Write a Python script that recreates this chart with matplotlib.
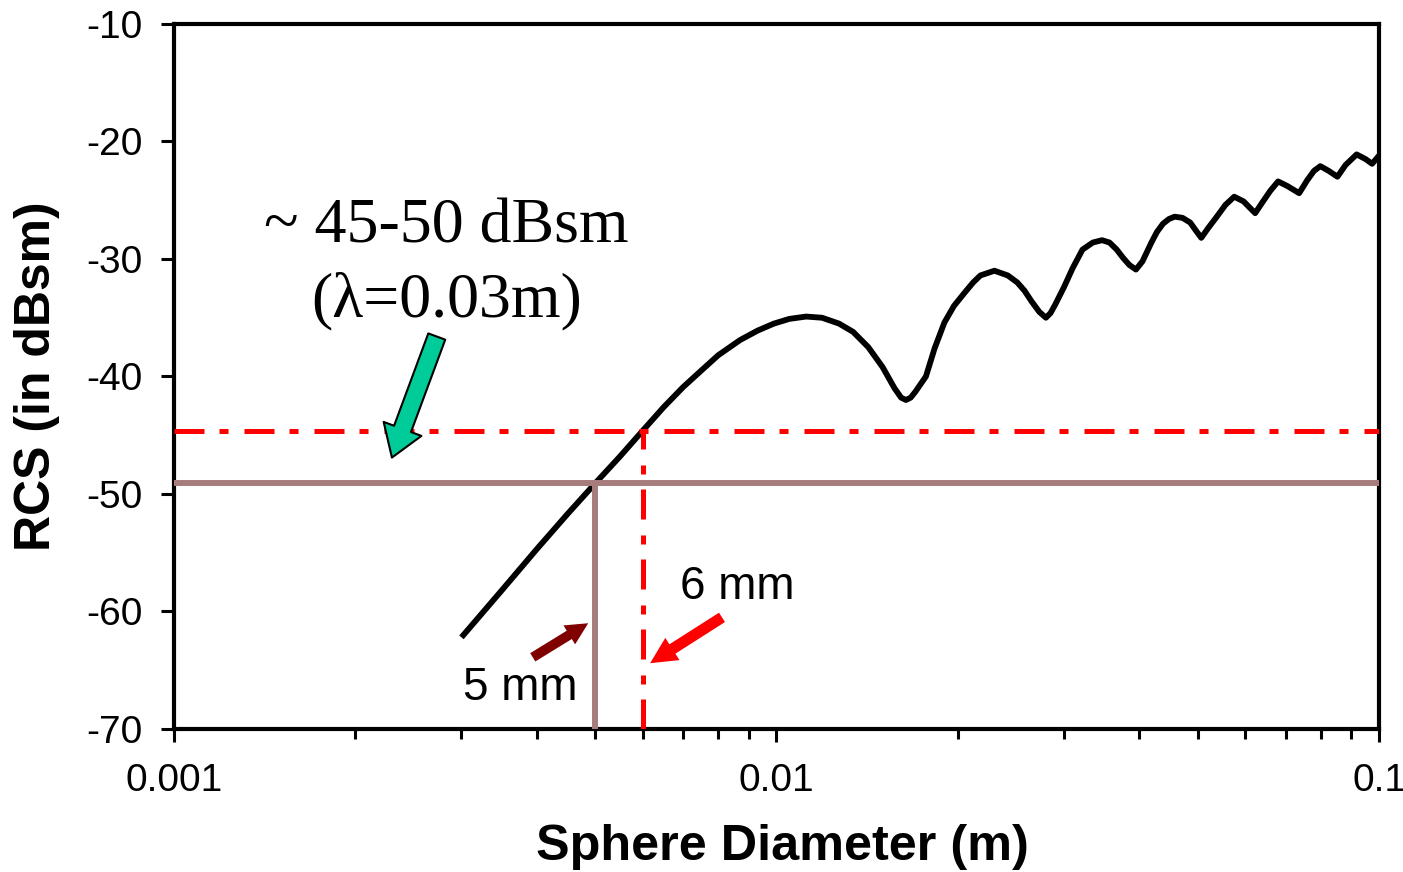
import matplotlib
matplotlib.use("Agg")
import matplotlib.pyplot as plt
from matplotlib.ticker import LogLocator, NullFormatter

plt.rcParams['font.family'] = ['Liberation Sans', 'DejaVu Sans']
plt.rcParams['lines.scale_dashes'] = False
plt.rcParams['axes.unicode_minus'] = False

# ---- data ----
diameter_m = [0.0030, 0.0035, 0.0040, 0.0045, 0.0050, 0.0055, 0.0060, 0.0065,
              0.0070, 0.0075, 0.0080, 0.0087, 0.0093, 0.0099, 0.0105, 0.0112,
              0.0119, 0.0127, 0.0134, 0.0142, 0.0150, 0.0157, 0.0161, 0.0164,
              0.0167, 0.0170, 0.0177, 0.0183, 0.0190, 0.0197, 0.0205, 0.0212,
              0.0218, 0.0230, 0.0242, 0.0251, 0.0258, 0.0265, 0.0273, 0.0280,
              0.0285, 0.0290, 0.0300, 0.0310, 0.0322, 0.0335, 0.0347, 0.0357,
              0.0367, 0.0376, 0.0385, 0.0395, 0.0405, 0.0419, 0.0428, 0.0438,
              0.0448, 0.0458, 0.0472, 0.0486, 0.0497, 0.0507, 0.0520, 0.0538,
              0.0556, 0.0575, 0.0596, 0.0612, 0.0623, 0.0640, 0.0660, 0.0680,
              0.0705, 0.0737, 0.0760, 0.0780, 0.0799, 0.0825, 0.0853, 0.0880,
              0.0918, 0.0950, 0.0974, 0.1000]
rcs_dbsm = [-62.2, -58.2, -54.7, -51.7, -49.1, -46.8, -44.6, -42.6,
            -40.9, -39.5, -38.2, -36.9, -36.1, -35.5, -35.1, -34.9,
            -35.0, -35.5, -36.2, -37.5, -39.2, -41.0, -41.8, -42.0,
            -41.8, -41.3, -40.0, -37.6, -35.4, -34.0, -32.9, -32.0,
            -31.4, -31.0, -31.4, -32.0, -32.7, -33.6, -34.5, -35.0,
            -34.6, -33.9, -32.4, -30.8, -29.2, -28.6, -28.4, -28.6,
            -29.2, -29.9, -30.5, -30.9, -30.2, -28.6, -27.7, -27.0,
            -26.6, -26.4, -26.5, -26.9, -27.6, -28.2, -27.4, -26.4,
            -25.4, -24.7, -25.1, -25.7, -26.1, -25.2, -24.2, -23.4,
            -23.8, -24.4, -23.3, -22.5, -22.1, -22.5, -23.0, -22.0,
            -21.1, -21.5, -21.9, -21.2]

level_high = -44.6      # red dash-dot level
level_low = -49.1       # brown level
d_6mm = 0.006
d_5mm = 0.005

xticks = [0.001, 0.01, 0.1]
xtick_labels = ['0.001', '0.01', '0.1']
yticks = [-70, -60, -50, -40, -30, -20, -10]

# ---- figure ----
fig = plt.figure(figsize=(14.03, 8.72), dpi=100)
ax = fig.add_axes([0.1240, 0.1640, 0.8589, 0.8085])

ax.set_xscale('log')
ax.set_xlim(0.001, 0.1)
ax.set_ylim(-70, -10)

ax.plot(diameter_m, rcs_dbsm, color='black', lw=4.2, solid_joinstyle='round',
        solid_capstyle='butt', zorder=3)

brown = '#a87c7c'
red = '#ff0000'
dash = (0, (21.6, 10.8, 6.5, 11.5))

ax.axhline(level_low, color=brown, lw=4.3, zorder=4)
ax.plot([d_5mm, d_5mm], [-70, level_low], color=brown, lw=4.3, zorder=4,
        solid_capstyle='butt')
ax.axhline(level_high, color=red, lw=3.6, linestyle=dash, zorder=5,
           dash_capstyle='butt')
ax.plot([d_6mm, d_6mm], [-70, level_high], color=red, lw=3.6, linestyle=dash,
        zorder=5, dash_capstyle='butt')

# ticks
ax.set_xticks(xticks)
ax.set_xticklabels(xtick_labels)
ax.xaxis.set_minor_locator(LogLocator(base=10, subs=range(2, 10)))
ax.xaxis.set_minor_formatter(NullFormatter())
ax.set_yticks(yticks)
ax.tick_params(axis='x', which='major', direction='out', length=9.5, width=2.2,
               labelsize=28, pad=15)
ax.tick_params(axis='x', which='minor', direction='out', length=7, width=2.2)
ax.tick_params(axis='y', which='major', direction='out', length=9.5, width=2.2,
               labelsize=28, pad=13)
for s in ax.spines.values():
    s.set_linewidth(3)

ax.set_xlabel('Sphere Diameter (m)', fontsize=36.3, fontweight='bold',
              va='center')
ax.xaxis.set_label_coords(0.505, -0.167)
ax.set_ylabel('RCS (in dBsm)', fontsize=36, fontweight='bold', va='center')
ax.yaxis.set_label_coords(-0.114, 0.5)

# annotations
serif = ['Liberation Serif', 'DejaVu Serif']
ax.text(0.00283, -28.6, '~ 45-50 dBsm', family=serif, fontsize=46,
        ha='center', va='baseline', zorder=6)
ax.text(0.00283, -34.9, '(\u03bb=0.03m)', family=serif, fontsize=46,
        ha='center', va='baseline', zorder=6)

ax.annotate('', xy=(0.00230, -46.9), xytext=(0.00273, -36.6),
            arrowprops=dict(arrowstyle='simple,head_length=1.1,head_width=1.45,tail_width=0.65',
                            fc='#00cc99', ec='black', lw=1.5,
                            shrinkA=0, shrinkB=0, mutation_scale=20),
            zorder=7)
ax.annotate('', xy=(0.00617, -64.4), xytext=(0.00812, -60.5),
            arrowprops=dict(arrowstyle='simple,head_length=0.95,head_width=0.95,tail_width=0.4',
                            fc=red, ec='none', lw=0,
                            shrinkA=0, shrinkB=0, mutation_scale=20),
            zorder=7)
ax.annotate('', xy=(0.00487, -61.0), xytext=(0.00394, -63.9),
            arrowprops=dict(arrowstyle='simple,head_length=0.8,head_width=0.8,tail_width=0.35',
                            fc='#800000', ec='none', lw=0,
                            shrinkA=0, shrinkB=0, mutation_scale=20),
            zorder=7)

ax.text(0.00860, -57.9, '6 mm', fontsize=33, ha='center', va='center', zorder=6)
ax.text(0.00375, -66.5, '5 mm', fontsize=33, ha='center', va='center', zorder=6)

fig.savefig('out.png', dpi=100)
